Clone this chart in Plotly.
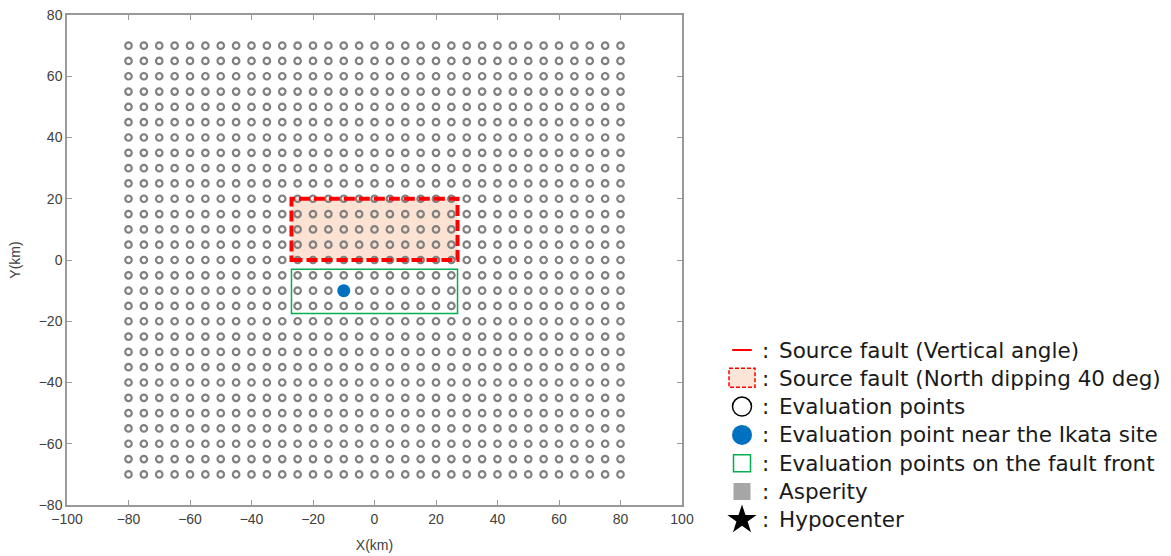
import numpy as np
import plotly.graph_objects as go

# ---- data ----
grid_x = list(range(-80, 81, 5))
grid_y = list(range(-70, 71, 5))
fault_x = [-27, 27]
fault_y = [0, 20]
front_x = [-27, 27]
front_y = [-17.5, -3]
site_x = [-10]
site_y = [-10]
x_ticks = [-100, -80, -60, -40, -20, 0, 20, 40, 60, 80, 100]
y_ticks = [-80, -60, -40, -20, 0, 20, 40, 60, 80]
legend_labels = [
    "Source fault (Vertical angle)",
    "Source fault (North dipping 40 deg)",
    "Evaluation points",
    "Evaluation point near the Ikata site",
    "Evaluation points on the fault front",
    "Asperity",
    "Hypocenter",
]

W, H = 1171, 556
ML, MR, MT, MB = 67, 5, 15, 5
PW = W - ML - MR
PH = H - MT - MB
plot_right = 682
plot_bottom = 505
main_xdom = (plot_right - ML) / PW
main_ydom = (H - MB - plot_bottom) / PH

gx, gy = np.meshgrid(grid_x, grid_y)

fig = go.Figure()
fig.add_trace(go.Scatter(
    x=gx.ravel(), y=gy.ravel(), mode="markers",
    marker=dict(symbol="circle-open", size=6.5, color="#808080", line=dict(width=2.2, color="#808080")),
    showlegend=False, hoverinfo="skip"))
fig.add_trace(go.Scatter(
    x=site_x, y=site_y, mode="markers",
    marker=dict(symbol="circle", size=13, color="#0070c0"),
    showlegend=False))

# fault fill + border
fig.add_shape(type="rect", x0=fault_x[0], x1=fault_x[1], y0=fault_y[0], y1=fault_y[1],
              xref="x", yref="y", fillcolor="rgba(248,203,173,0.55)", line=dict(width=0), layer="below")
fig.add_shape(type="rect", x0=fault_x[0], x1=fault_x[1], y0=fault_y[0], y1=fault_y[1],
              xref="x", yref="y", fillcolor="rgba(0,0,0,0)", line=dict(color="#ff0000", width=4, dash="11px,4px"),
              layer="above")
fig.add_shape(type="rect", x0=front_x[0], x1=front_x[1], y0=front_y[0], y1=front_y[1],
              xref="x", yref="y", line=dict(color="#00b050", width=1.5), layer="above")

# ---- legend (custom) on auxiliary pixel axis ----
FS = 21.5
step = 28.3
sym_x = 742
colon_x = 765
text_x = 778
row0 = 350
rows = [row0 + i * step for i in range(len(legend_labels))]

legend_marks = [
    dict(symbol="line-ew-open", size=14, color="#ff0000", line=dict(width=2, color="#ff0000")),
    None,
    dict(symbol="circle-open", size=19, color="#000000", line=dict(width=1.5, color="#000000")),
    dict(symbol="circle", size=20, color="#0070c0"),
    dict(symbol="square-open", size=17, color="#00b050", line=dict(width=1.5, color="#00b050")),
    dict(symbol="square", size=17, color="#a6a6a6"),
    dict(symbol="star", size=22, color="#000000"),
]
for i, m in enumerate(legend_marks):
    if m is None:
        fig.add_shape(type="rect", x0=sym_x - 13, x1=sym_x + 13, y0=rows[i] - 10, y1=rows[i] + 9,
                      xref="x2", yref="y2", fillcolor="#fbe5d6",
                      line=dict(color="#ff0000", width=1.5, dash="4px,2px"))
        continue
    fig.add_trace(go.Scatter(x=[sym_x], y=[rows[i]], mode="markers", marker=m,
                             xaxis="x2", yaxis="y2", showlegend=False, hoverinfo="skip", cliponaxis=False))

for i, lab in enumerate(legend_labels):
    fig.add_annotation(x=colon_x, y=rows[i], xref="x2", yref="y2", text=":",
                       showarrow=False, xanchor="center", yanchor="middle", borderpad=0,
                       font=dict(family="DejaVu Sans", size=FS, color="#1a1a1a"))
    fig.add_annotation(x=text_x, y=rows[i], xref="x2", yref="y2", text=lab,
                       showarrow=False, xanchor="left", yanchor="middle", borderpad=0,
                       font=dict(family="DejaVu Sans", size=FS, color="#1a1a1a"))

axis_common = dict(
    showgrid=False, zeroline=False, showline=True, linecolor="#999999", linewidth=1.5,
    mirror="ticks", ticks="inside", ticklen=5, tickcolor="#999999", tickwidth=1,
    tickfont=dict(family="Liberation Sans", size=14, color="#404040"), automargin=False,
)
fig.update_layout(
    width=W, height=H,
    margin=dict(l=ML, r=MR, t=MT, b=MB, autoexpand=False),
    paper_bgcolor="white", plot_bgcolor="rgba(0,0,0,0)",
    xaxis=dict(domain=[0, main_xdom], range=[-100, 100], tickvals=x_ticks, **axis_common,
               title=dict(text="X(km)", font=dict(family="Liberation Sans", size=14, color="#404040"))),
    yaxis=dict(domain=[main_ydom, 1], range=[-80, 80], tickvals=y_ticks, **axis_common,
               title=dict(text="Y(km)", font=dict(family="Liberation Sans", size=14, color="#404040"))),
    xaxis2=dict(domain=[0, 1], range=[ML, W - MR], visible=False, anchor="y2"),
    yaxis2=dict(domain=[0, 1], range=[H - MB, MT], visible=False, anchor="x2"),
    showlegend=False,
)
fig.write_html("out.html")
